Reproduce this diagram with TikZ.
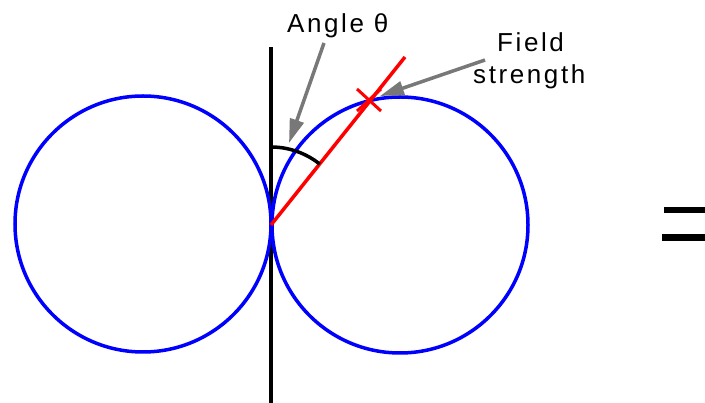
\documentclass[tikz,border=0pt]{standalone}
\usepackage{fontspec}
\newfontfamily\lblfont[LetterSpace=10]{Liberation Sans}
\usetikzlibrary{arrows.meta}
\definecolor{pblue}{RGB}{0,0,255}
\definecolor{pred}{RGB}{255,0,0}
\definecolor{pgray}{RGB}{120,120,120}
\begin{document}
\begin{tikzpicture}[x=1pt,y=-1pt,
  lbl/.style={font=\lblfont\fontsize{26}{30}\selectfont, inner sep=0pt},
  lobe/.style={draw=pblue, line width=3.5pt},
  pointer/.style={draw=pgray, line width=3.5pt, -{Triangle[length=24pt,width=14pt]}, fill=pgray}]
\useasboundingbox (0,0) rectangle (705,403);
\fill[white] (0,0) rectangle (705,403);
% axis
\coordinate (top) at (271,47);
\coordinate (bot) at (271,403);
\draw[line width=3.5pt] (top) -- (bot);
% lobes
\draw[lobe] (143,224) circle (128);
\draw[lobe] (400,225) circle (128);
% field line
\coordinate (o) at (271,225);
\coordinate (fe) at (405,57);
\draw[pred, line width=3.5pt] (o) -- (fe);
% X mark
\coordinate (x) at (369,100);
\draw[pred, line width=3pt] ([shift={(-12,-11)}]x) -- ([shift={(12,11)}]x)
  ([shift={(-12,11)}]x) -- ([shift={(12,-11)}]x);
% angle arc
\draw[line width=3.5pt] (271,147) arc[start angle=-90, end angle=-51.3, radius=78];
% labels
\node[lbl, anchor=base west] (ang) at (287,33) {Angle θ};
\node[lbl, anchor=base west] (fld) at (497,52) {Field};
\node[lbl, anchor=base west] (str) at (473,84) {strength};
\coordinate (a1) at (324,43);
\coordinate (a2) at (289,143);
\coordinate (b1) at (485,60);
\coordinate (b2) at (380,96);
\draw[pointer] (a1) -- (a2);
\draw[pointer] (b1) -- (b2);
% equals sign
\fill (664,207) rectangle (705,213);
\fill (662,234) rectangle (705,241);
\end{tikzpicture}
\end{document}
